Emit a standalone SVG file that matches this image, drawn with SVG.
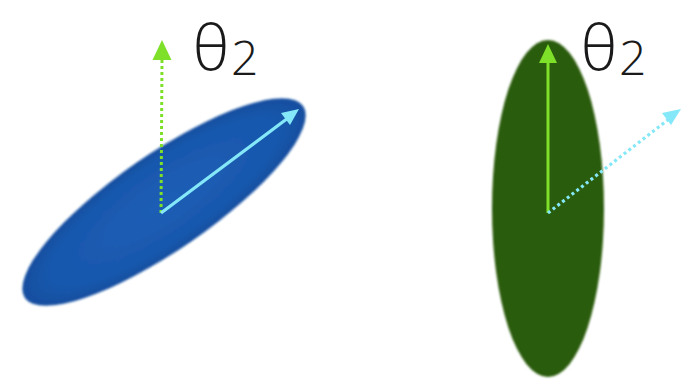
<svg xmlns="http://www.w3.org/2000/svg" width="681" height="381" viewBox="0 0 681 381">
  <style>
    .lbl { font-family: "Open Sans", "Liberation Sans", sans-serif; font-weight: 300; fill: #1a1a1a; }
    .big { font-size: 63px; }
    .sub { font-size: 48px; }
    .lime { stroke: #7fe02a; stroke-width: 3; fill: none; }
    .cyan { stroke: #84e8f8; stroke-width: 3.2; fill: none; }
    .dot { stroke-dasharray: 3 3; }
  </style>
  <defs>
    <filter id="soft" x="-10%" y="-10%" width="120%" height="120%">
      <feGaussianBlur stdDeviation="1"/>
    </filter>
    <radialGradient id="blueG" cx="50%" cy="50%" r="50%">
      <stop offset="0" stop-color="#1c5eb6"/>
      <stop offset="0.8" stop-color="#1958ad"/>
      <stop offset="1" stop-color="#134e9f"/>
    </radialGradient>
  </defs>
  <g id="blue-ellipse">
    <ellipse cx="164" cy="202" rx="169" ry="48" fill="url(#blueG)" transform="rotate(-34.6 164 202)" filter="url(#soft)"/>
  </g>
  <g id="green-ellipse">
    <ellipse cx="548" cy="208.5" rx="56" ry="168.5" fill="#2a5c08" filter="url(#soft)"/>
  </g>
  <g id="connectors">
    <line class="lime dot" x1="161" y1="213" x2="162" y2="60"/>
    <polygon points="162,40 152.5,60 171.5,60" fill="#7fe02a"/>
    <line class="cyan" x1="161" y1="213" x2="288" y2="118"/>
    <polygon points="299,109 281,113 290,125" fill="#84e8f8"/>
    <line class="lime" x1="548" y1="213" x2="548" y2="62"/>
    <polygon points="548,44 539,63 557,63" fill="#7fe02a"/>
    <line class="cyan dot" x1="548" y1="213" x2="669" y2="119"/>
    <polygon points="681,109 662,113 671,125" fill="#84e8f8"/>
  </g>
  <g id="label-left">
    <text class="lbl" x="193" y="70"><tspan class="big">θ</tspan><tspan class="sub" x="231" y="75">2</tspan></text>
  </g>
  <g id="label-right">
    <text class="lbl" x="581" y="70"><tspan class="big">θ</tspan><tspan class="sub" x="619" y="75">2</tspan></text>
  </g>
</svg>
